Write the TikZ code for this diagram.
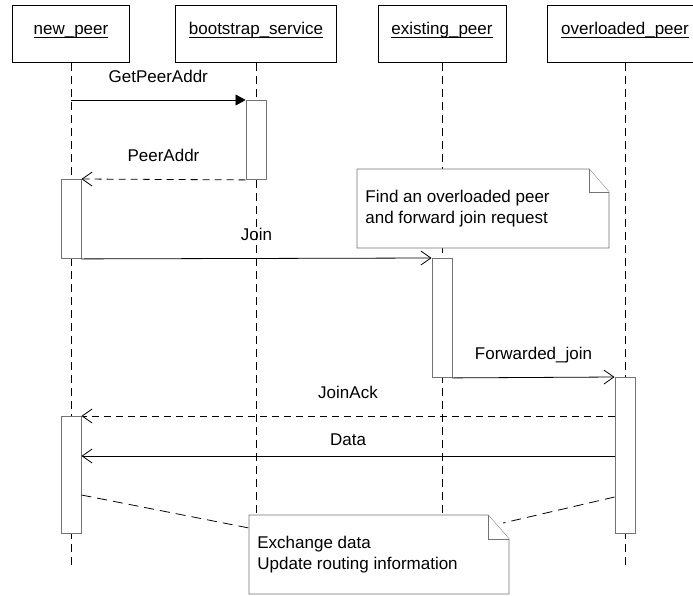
\documentclass[tikz,border=0pt]{standalone}
\usepackage{fontspec}
\setmainfont{Liberation Sans}
\usetikzlibrary{arrows.meta}

\newcommand{\ulname}[1]{\setbox0\hbox{#1}\rlap{\rule[-3pt]{\wd0}{0.9pt}}\box0}

\tikzset{
  head/.style = {draw, minimum height=57pt, inner sep=0pt, anchor=north,
    text height=6pt, text depth=5pt},
  act/.style = {draw=black!55, fill=white, minimum width=20pt, inner sep=0pt,
    anchor=north, line width=0.9pt},
  life/.style = {dash pattern=on 8pt off 5pt},
  msg/.style = {-{Straight Barb[length=10pt,width=14pt]}},
  call/.style = {-{Triangle[length=10pt,width=11pt]}},
  reply/.style = {msg, dash pattern=on 7pt off 5pt},
  lbl/.style = {midway, anchor=base, yshift=18pt, inner sep=0pt},
  note/.style = {draw=black!55, fill=white, line width=0.9pt},
  notetxt/.style = {anchor=west, inner sep=0pt, align=left},
  notelink/.style = {dash pattern=on 10pt off 6pt}
}

\begin{document}
\begin{tikzpicture}[x=1pt, y=-1pt, line width=0.8pt,
  font=\fontsize{17}{21}\selectfont]
\useasboundingbox (0,0) rectangle (693,595);

% heads
\node[head, minimum width=117pt] (np) at (71,5) {\ulname{new\_peer}};
\node[head, minimum width=161pt] (bs) at (256,5) {\ulname{bootstrap\_service}};
\node[head, minimum width=128pt] (ep) at (442,5) {\ulname{existing\_peer}};
\node[head, minimum width=156pt] (op) at (625,5) {\ulname{overloaded\_peer}};

% lifelines
\foreach \p in {np,bs,ep,op}
  \draw[life] (\p.south) -- (\p.south |- 0,565);

% activations
\node[act, minimum height=79pt] (bsact) at (256,100) {};
\node[act, minimum height=79pt] (npact) at (71,179) {};
\node[act, minimum height=119pt] (epact) at (442,258) {};
\node[act, minimum height=156pt] (opact) at (625,377) {};
\node[act, minimum height=117pt] (npact2) at (71,416) {};

% messages
\draw[call] (np |- bsact.north) -- (bsact.north west)
  node[lbl] {GetPeerAddr};
\draw[reply] (bsact.south west) -- (npact.north east)
  node[lbl] {PeerAddr};
\draw[msg] (npact.south east) -- (epact.north west)
  node[lbl] {Join};
\draw[msg] (epact.south east) -- (opact.north west)
  node[lbl] {Forwarded\_join};
\draw[reply] (opact.west |- npact2.north) -- (npact2.north east)
  node[lbl] {JoinAck};
\draw[msg] (opact.west |- 0,456) -- (npact2.east |- 0,456)
  node[lbl, yshift=-7pt] {Data};

% note: find peer
\filldraw[note] (357,169) -- (589,169) -- (609,192) -- (609,248)
  -- (357,248) -- cycle;
\draw[note] (589,169) |- (609,192);
\node[notetxt] (findnote) at (365,208.5)
  {Find an overloaded peer\\and forward join request};

% note: exchange
\coordinate (xl) at (249,528);
\coordinate (xr) at (503,523);
\draw[notelink] (npact2.east |- 0,495) -- (xl);
\draw[notelink] (opact.west |- 0,497) -- (xr);
\filldraw[note] (249,515) -- (488,515) -- (509,539) -- (509,594)
  -- (249,594) -- cycle;
\draw[note] (488,515) |- (509,539);
\node[notetxt] (xnote) at (257,555)
  {Exchange data\\Update routing information};
\end{tikzpicture}
\end{document}
